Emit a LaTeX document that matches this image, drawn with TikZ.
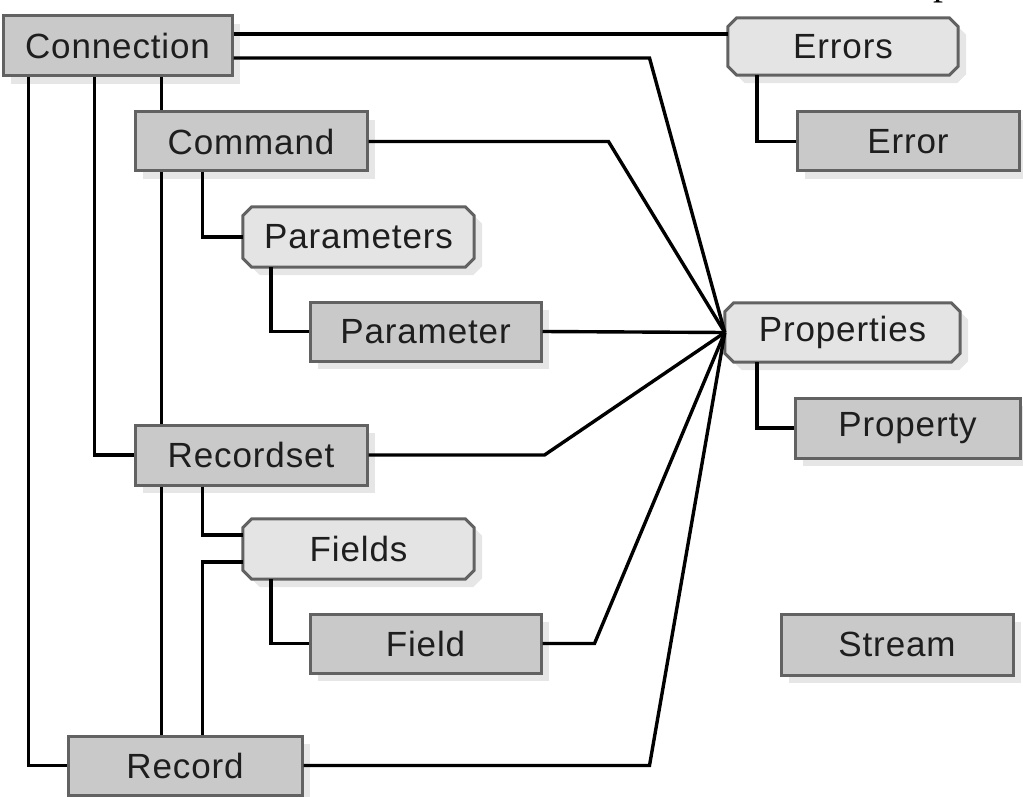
\documentclass[tikz,border=0pt]{standalone}
\usepackage{fontspec}
\setmainfont{Liberation Sans}[LetterSpace=2.5]
\newfontfamily\headserif{Liberation Serif}
\usetikzlibrary{shadows,backgrounds}
\definecolor{boxfill}{HTML}{C9C9C9}
\definecolor{collfill}{HTML}{E4E4E4}
\definecolor{boxline}{HTML}{626262}
\definecolor{shade}{HTML}{E6E6E6}
\definecolor{txt}{HTML}{1E1E1E}
\tikzset{
  boxtext/.style={text=txt, font=\fontsize{35}{40}\selectfont, inner sep=0pt},
  objbox/.style={boxtext, rectangle, draw=boxline, line width=3pt, fill=boxfill,
    minimum width=230pt, minimum height=59pt,
    drop shadow={shadow xshift=8pt, shadow yshift=-8pt, fill=shade, opacity=1}},
  collbox/.style={boxtext, rectangle, minimum width=230pt, minimum height=57pt},
  collshadow/.style={fill=shade},
  collface/.style={fill=collfill, draw=boxline, line width=3pt},
  link/.style={draw=black, line width=3.4pt, miter limit=4}
}
% octagonal outline round a node: node, x offset, y offset, style
\newcommand\chamferpath[4]{%
  \path[#4]
    ([xshift=#2+9pt,yshift=#3]#1.north west) -- ([xshift=#2-9pt,yshift=#3]#1.north east)
    -- ([xshift=#2,yshift=#3-9pt]#1.north east) -- ([xshift=#2,yshift=#3+9pt]#1.south east)
    -- ([xshift=#2-9pt,yshift=#3]#1.south east) -- ([xshift=#2+9pt,yshift=#3]#1.south west)
    -- ([xshift=#2,yshift=#3+9pt]#1.south west) -- ([xshift=#2,yshift=#3-9pt]#1.north west)
    -- cycle;}
% chamfered frame of a collection box, with its shadow
\newcommand\collframe[1]{%
  \chamferpath{#1}{8pt}{-8pt}{collshadow}%
  \chamferpath{#1}{0pt}{0pt}{collface}}
\begin{document}
\begin{tikzpicture}[x=1pt, y=-1pt]
\useasboundingbox (0,0) rectangle (1023,797);

% descender of the heading line above, cut by the page edge
\node[anchor=base west, inner sep=0pt, font=\headserif\fontsize{40}{44}\selectfont, text=black]
  (headcut) at (933,-5.5) {p};

% object and collection boxes
\node[objbox, minimum width=229pt, minimum height=60pt] (conn) at (117.5,46) {Connection};
\node[objbox, minimum width=232pt] (cmd) at (251,141.5) {Command};
\node[collbox, minimum width=231pt, minimum height=60pt] (params) at (358.5,237) {Parameters};
\node[objbox, minimum width=231pt] (param) at (425.5,331.5) {Parameter};
\node[objbox, minimum width=232pt, minimum height=60pt] (rset) at (251,455) {Recordset};
\node[collbox, minimum width=231pt, minimum height=60pt] (fields) at (358.5,549) {Fields};
\node[objbox, minimum width=231pt] (field) at (425.5,643.5) {Field};
\node[objbox, minimum width=234pt] (rec) at (185,765.5) {Record};
\node[collbox] (errs) at (843,46.5) {Errors};
\node[objbox, minimum width=222pt] (err) at (908,141.5) {Error};
\node[collbox, minimum width=235pt, minimum height=59pt] (props) at (842.5,332.5) {Properties};
\node[objbox, minimum width=225pt, minimum height=60pt] (prop) at (907.5,428) {Property};
\node[objbox, minimum width=232pt, minimum height=61pt] (strm) at (897,644.5) {Stream};

\begin{scope}[on background layer]
  \collframe{params}
  \collframe{fields}
  \collframe{errs}
  \collframe{props}
\end{scope}

% tree connectors on the left
\draw[link] ([xshift=27pt]conn.south west) |- (rec.west);
\draw[link] ([xshift=93pt]conn.south west) |- (rset.west);
\draw[link] ([xshift=160pt]conn.south west) -- ([xshift=28pt]cmd.north west);
\draw[link] ([xshift=28pt]cmd.south west) -- ([xshift=28pt]rset.north west);
\draw[link] ([xshift=28pt]rset.south west) -- ([xshift=95pt]rec.north west);
\draw[link] ([xshift=69pt]cmd.south west) |- (params.west);
\draw[link] ([xshift=28pt]params.south west) |- (param.west);
\draw[link] ([xshift=69pt]rset.south west) |- ([yshift=14pt]fields.west);
\draw[link] ([xshift=136pt]rec.north west) |- ([yshift=-13pt]fields.west);
\draw[link] ([xshift=28pt]fields.south west) |- (field.west);

% connectors on the right
\coordinate (ctop) at ([yshift=12pt]conn.east);
\draw[link] (ctop) -- (ctop -| errs.west);
\draw[link] ([xshift=29pt]errs.south west) |- (err.west);
\draw[link] ([xshift=32pt]props.south west) |- (prop.west);

% everything that has properties
\draw[link] ([yshift=-12pt]conn.east) -- ++(416,0) -- (props.west);
\draw[link] (cmd.east) -- ++(240,0) -- (props.west);
\draw[link] (param.east) -- (props.west);
\draw[link] (rset.east) -- ++(176,0) -- (props.west);
\draw[link] (field.east) -- ++(52,0) -- (props.west);
\draw[link] (rec.east) -- ++(346,0) -- (props.west);
\end{tikzpicture}
\end{document}
